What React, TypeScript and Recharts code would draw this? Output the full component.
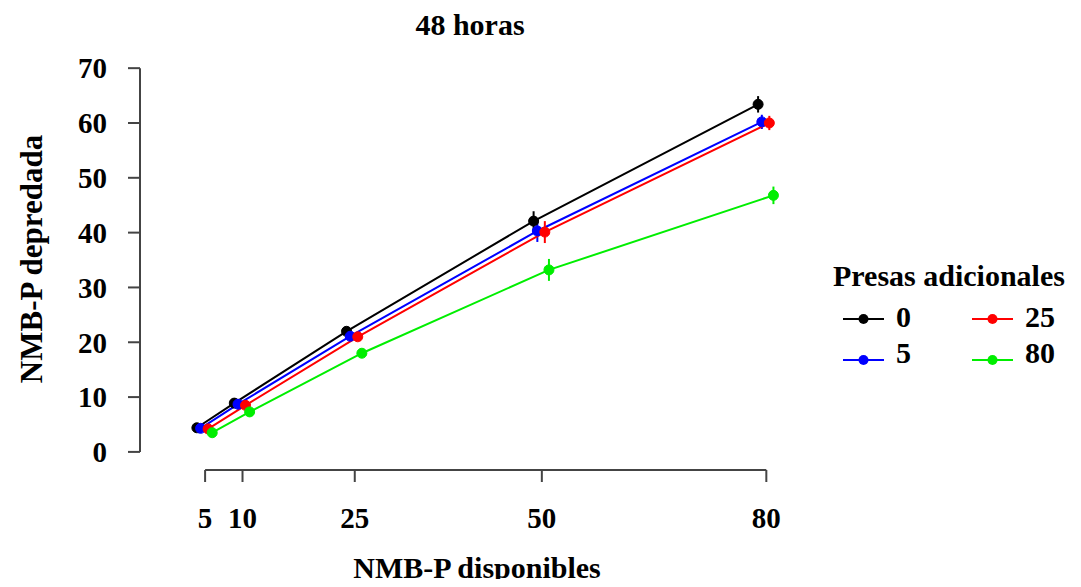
import {
  LineChart,
  Line,
  XAxis,
  YAxis,
  ErrorBar,
  ReferenceLine,
} from "recharts";

// NMB-P disponibles (densidades ofrecidas)
const densities = [5, 10, 25, 50, 80];
const xTicks = [5, 10, 25, 50, 80];
const yTicks = [0, 10, 20, 30, 40, 50, 60, 70];

// presas adicionales
const groups = ["0", "5", "25", "80"];
const colors = ["#000000", "#0000ff", "#ff0000", "#00ee00"];
// horizontal dodge so the points do not overlap
const dodge = [-1.1, -0.6, 0.4, 0.95];

const means0 = [4.4, 8.9, 22.0, 42.1, 63.4];
const means5 = [4.3, 8.7, 21.1, 40.3, 60.2];
const means25 = [4.2, 8.5, 21.0, 40.1, 60.0];
const means80 = [3.5, 7.3, 18.0, 33.2, 46.8];

const se0 = [0.6, 0.7, 0.8, 1.8, 1.5];
const se5 = [0.5, 0.6, 0.7, 2.0, 1.3];
const se25 = [0.5, 0.6, 0.7, 2.0, 1.3];
const se80 = [0.5, 0.7, 0.8, 2.0, 1.6];

const means = [means0, means5, means25, means80];
const ses = [se0, se5, se25, se80];

const series = groups.map((g, i) => ({
  name: g,
  color: colors[i],
  data: densities.map((d, j) => ({
    x: d + dodge[i],
    y: means[i][j],
    err: ses[i][j],
  })),
}));

const font = "'Liberation Serif', 'Times New Roman', serif";
const axisColor = "#444";
const X_DOMAIN: [number, number] = [-3.7, 84.5];
const Y_DOMAIN: [number, number] = [-3.3, 72.4];

const tickStyle = {
  fill: "#000",
  fontSize: 29,
  fontWeight: 700,
  fontFamily: font,
};

function LegendBox() {
  const cols = [
    [0, 1],
    [2, 3],
  ];
  return (
    <svg width={256} height={125} style={{ display: "block" }}>
      <text
        x={8}
        y={31}
        fontFamily={font}
        fontWeight={700}
        fontSize={30}
        fill="#000"
      >
        Presas adicionales
      </text>
      {cols.map((col, c) =>
        col.map((idx, r) => {
          const x0 = 18 + c * 129;
          const ly = r === 0 ? 64 : 105;
          const ty = r === 0 ? 72 : 108;
          const s = series[idx];
          return (
            <g key={s.name}>
              <line
                x1={x0}
                x2={x0 + 41}
                y1={ly}
                y2={ly}
                stroke={s.color}
                strokeWidth={2}
              />
              <circle cx={x0 + 20.5} cy={ly} r={5} fill={s.color} />
              <text
                x={x0 + 53}
                y={ty}
                fontFamily={font}
                fontWeight={700}
                fontSize={30}
                fill="#000"
              >
                {s.name}
              </text>
            </g>
          );
        })
      )}
    </svg>
  );
}

export default function App() {
  return (
    <div style={{ position: "relative", width: 1065, height: 571 }}>
      <LineChart
        width={1065}
        height={571}
        margin={{ top: 47, right: 273, bottom: 49, left: 32 }}
      >
        <XAxis
          type="number"
          dataKey="x"
          domain={X_DOMAIN}
          ticks={xTicks}
          axisLine={false}
          tickLine={{ stroke: axisColor, strokeWidth: 2 }}
          tickSize={12}
          tickMargin={25}
          height={60}
          tick={tickStyle}
          interval={0}
        />
        <YAxis
          type="number"
          dataKey="y"
          domain={Y_DOMAIN}
          ticks={yTicks}
          axisLine={false}
          tickLine={{ stroke: axisColor, strokeWidth: 2 }}
          tickSize={12}
          tickMargin={21}
          width={100}
          tick={tickStyle}
          interval={0}
        />
        <ReferenceLine
          segment={[
            { x: xTicks[0], y: Y_DOMAIN[0] },
            { x: xTicks[xTicks.length - 1], y: Y_DOMAIN[0] },
          ]}
          stroke={axisColor}
          strokeWidth={2}
          ifOverflow="visible"
        />
        <ReferenceLine
          segment={[
            { x: X_DOMAIN[0], y: yTicks[0] },
            { x: X_DOMAIN[0], y: yTicks[yTicks.length - 1] },
          ]}
          stroke={axisColor}
          strokeWidth={2}
          ifOverflow="visible"
        />
        {series.map((s) => (
          <Line
            key={s.name}
            name={s.name}
            data={s.data}
            dataKey="y"
            type="linear"
            stroke={s.color}
            strokeWidth={2}
            dot={{ r: 5, fill: s.color, stroke: s.color, strokeWidth: 1 }}
            activeDot={false}
            isAnimationActive={false}
          >
            <ErrorBar
              dataKey="err"
              direction="y"
              width={0}
              stroke={s.color}
              strokeWidth={2}
              isAnimationActive={false}
            />
          </Line>
        ))}
      </LineChart>
      <div style={{ position: "absolute", left: 817, top: 247 }}>
        <LegendBox />
      </div>
      <svg
        width={1081}
        height={587}
        style={{
          position: "absolute",
          left: -8,
          top: -8,
          pointerEvents: "none",
        }}
      >
        <text
          x={470}
          y={35}
          textAnchor="middle"
          fontFamily={font}
          fontWeight={700}
          fontSize={30}
        >
          48 horas
        </text>
        <text
          x={477}
          y={578}
          textAnchor="middle"
          fontFamily={font}
          fontWeight={700}
          fontSize={30}
        >
          NMB-P disponibles
        </text>
        <text
          x={42}
          y={259}
          textAnchor="middle"
          transform="rotate(-90 42 259)"
          fontFamily={font}
          fontWeight={700}
          fontSize={31}
        >
          NMB-P depredada
        </text>
      </svg>
    </div>
  );
}
